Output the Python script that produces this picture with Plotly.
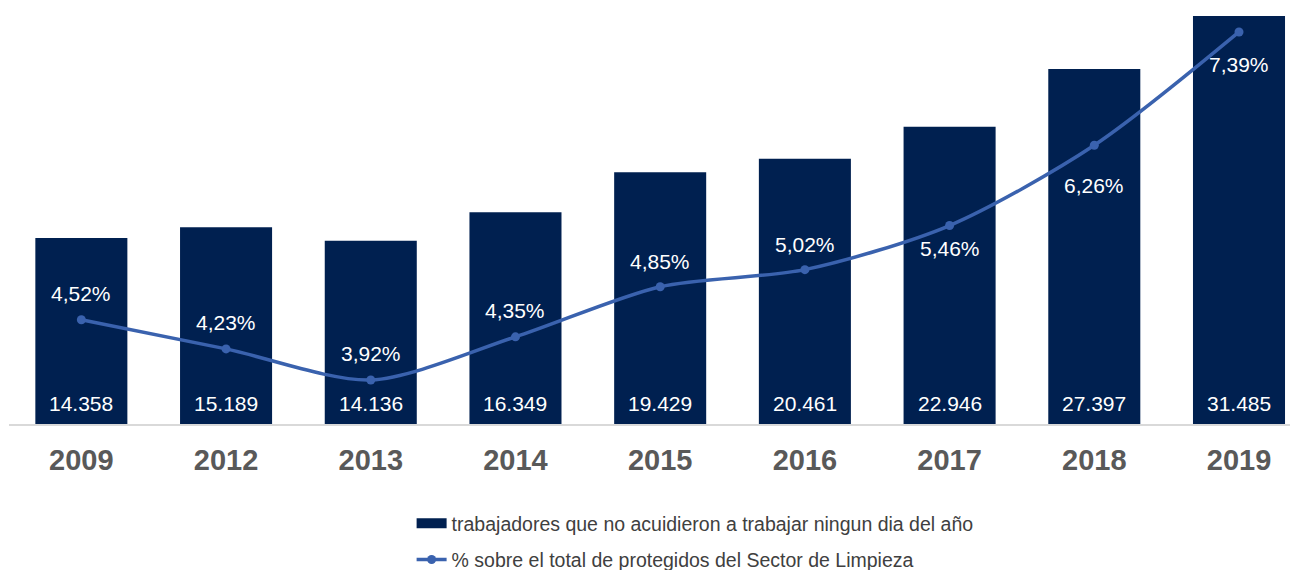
import plotly.graph_objects as go

years = ["2009", "2012", "2013", "2014", "2015", "2016", "2017", "2018", "2019"]
workers = [14358, 15189, 14136, 16349, 19429, 20461, 22946, 27397, 31485]
pct = [4.52, 4.23, 3.92, 4.35, 4.85, 5.02, 5.46, 6.26, 7.39]

BAR_NAME = "trabajadores que no acuidieron a trabajar ningun dia del año"
LINE_NAME = "% sobre el total de protegidos del Sector de Limpieza"

def fmt_int(v):
    return f"{v:,}".replace(",", ".")

def fmt_pct(v):
    return f"{v:.2f}%".replace(".", ",")

FONT = "Liberation Sans, Arial, sans-serif"
NAVY = "#002050"
BLUE = "#3A62AE"

# vertical offsets of the percentage labels relative to their points (px)
pct_label_shift = [26, 26, 26, 26, 25, 25, -23, -40, -33]

fig = go.Figure()
fig.add_trace(go.Bar(
    x=years, y=workers, name=BAR_NAME, showlegend=False,
    marker=dict(color=NAVY, line=dict(width=0)),
    hoverinfo="x+y",
))
# legend swatch for the bars (wide rectangle like the original)
fig.add_trace(go.Scatter(
    x=[None], y=[None], name=BAR_NAME, mode="lines",
    line=dict(color=NAVY, width=13), legendgroup="a",
))
fig.add_trace(go.Scatter(
    x=years, y=pct, yaxis="y2", name=LINE_NAME, legendgroup="b",
    mode="lines+markers",
    line=dict(color=BLUE, width=3.5, shape="spline", smoothing=0.8),
    marker=dict(color=BLUE, size=9),
))

for i, v in enumerate(workers):
    fig.add_annotation(
        x=i, y=0, xref="x", yref="y", text=fmt_int(v), showarrow=False,
        yanchor="middle", yshift=21,
        font=dict(color="white", size=21, family=FONT),
    )

for i, (v, s) in enumerate(zip(pct, pct_label_shift)):
    fig.add_annotation(
        x=i, y=v, xref="x", yref="y2", text=fmt_pct(v), showarrow=False,
        yanchor="middle", yshift=s,
        font=dict(color="white", size=21, family=FONT),
    )

fig.update_layout(
    width=1298, height=570,
    margin=dict(l=1, r=0, t=0, b=154),
    plot_bgcolor="white", paper_bgcolor="white",
    bargap=0.364,
    font=dict(family=FONT),
    xaxis=dict(
        type="category", range=[-0.5, 8.463],
        showline=True, linecolor="#D9D9D9", linewidth=1.5,
        showgrid=False, ticks="",
        tickfont=dict(size=29, color="#595959", family="Liberation Sans, Arial", weight="bold"),
        ticklabelstandoff=9,
    ),
    yaxis=dict(range=[0, 32102], visible=False, showgrid=False),
    yaxis2=dict(range=[3.481, 7.629], overlaying="y", visible=False, showgrid=False),
    showlegend=True,
    legend=dict(
        orientation="v", x=0.529, xanchor="center", y=0.1298, yanchor="top",
        yref="container", font=dict(size=19.5, color="#404040", family=FONT),
        tracegroupgap=8,
    ),
)

fig.write_html("out.html")
